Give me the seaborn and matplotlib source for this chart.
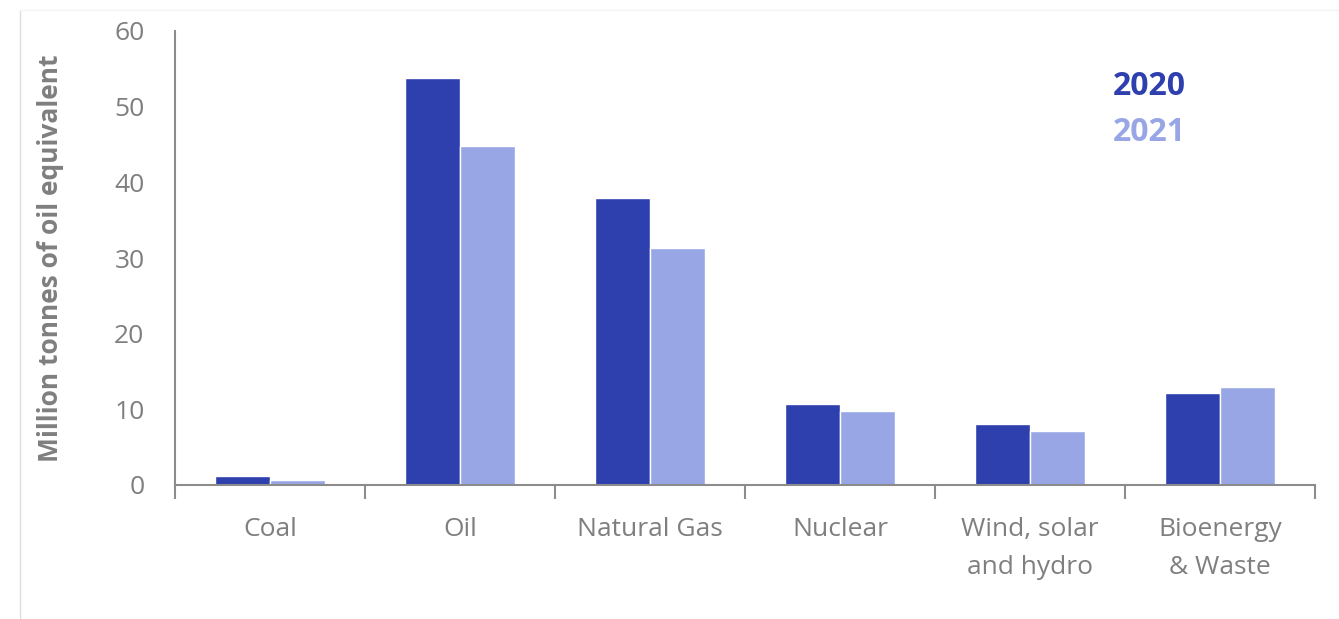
import numpy as np
import pandas as pd
import seaborn as sns
import matplotlib.pyplot as plt

categories = ["Coal", "Oil", "Natural Gas", "Nuclear", "Wind, solar\nand hydro", "Bioenergy\n& Waste"]
years = ["2020", "2021"]
values_2020 = [1.2, 53.8, 37.9, 10.7, 8.1, 12.2]
values_2021 = [0.7, 44.8, 31.3, 9.8, 7.1, 12.9]

dark_blue = "#2E3FAE"
light_blue = "#99A6E5"
grey = "#7F7F7F"

df = pd.DataFrame({
    "category": categories * 2,
    "year": [years[0]] * len(categories) + [years[1]] * len(categories),
    "value": values_2020 + values_2021,
})

sns.set_style("white")
plt.rcParams['font.family'] = ['Open Sans', 'DejaVu Sans']

fig = plt.figure(figsize=(13.39, 6.19), dpi=100)
ax = fig.add_axes([175 / 1339, 1 - 485 / 619, (1315 - 175) / 1339, (485 - 31) / 619])

sns.barplot(
    data=df, x="category", y="value", hue="year",
    palette=[dark_blue, light_blue], width=0.575,
    saturation=1, legend=False, ax=ax
)

ax.set_xlim(-0.5, len(categories) - 0.5)
ax.set_ylim(0, 60)
ax.set_yticks(np.arange(0, 61, 10))
ax.set_xlabel("")
ax.set_ylabel("Million tonnes of oil equivalent", fontsize=19, fontweight="bold",
              color=grey, labelpad=36)

ax.set_xticks(np.arange(-0.5, len(categories), 1.0), minor=True)
ax.tick_params(axis="x", which="major", length=0, labelsize=19, labelcolor=grey, pad=23)
ax.tick_params(axis="x", which="minor", bottom=True, length=10, width=1.5,
               color="#8C8C8C", direction="out")
ax.tick_params(axis="y", length=0, labelsize=19, labelcolor=grey, pad=22)
for lbl in ax.get_xticklabels():
    lbl.set_linespacing(1.7)

for side in ["top", "right"]:
    ax.spines[side].set_visible(False)
for side in ["left", "bottom"]:
    ax.spines[side].set_color("#8C8C8C")
    ax.spines[side].set_linewidth(1.5)

legend_x = (1113 - 175) / (1315 - 175)
ax.text(legend_x, 0.877, "2020", transform=ax.transAxes, fontsize=23, fontweight="bold",
        color=dark_blue, va="center", ha="left")
ax.text(legend_x, 0.777, "2021", transform=ax.transAxes, fontsize=23, fontweight="bold",
        color=light_blue, va="center", ha="left")

# faint chart-area border (left and top edges only)
fig.add_artist(plt.Line2D([20 / 1339, 20 / 1339], [0, 1 - 10 / 619], transform=fig.transFigure,
                          color="#DDDDDD", linewidth=1))
fig.add_artist(plt.Line2D([20 / 1339, 1], [1 - 10 / 619, 1 - 10 / 619], transform=fig.transFigure,
                          color="#F3F3F3", linewidth=1))

fig.savefig("out.png", dpi=100)
